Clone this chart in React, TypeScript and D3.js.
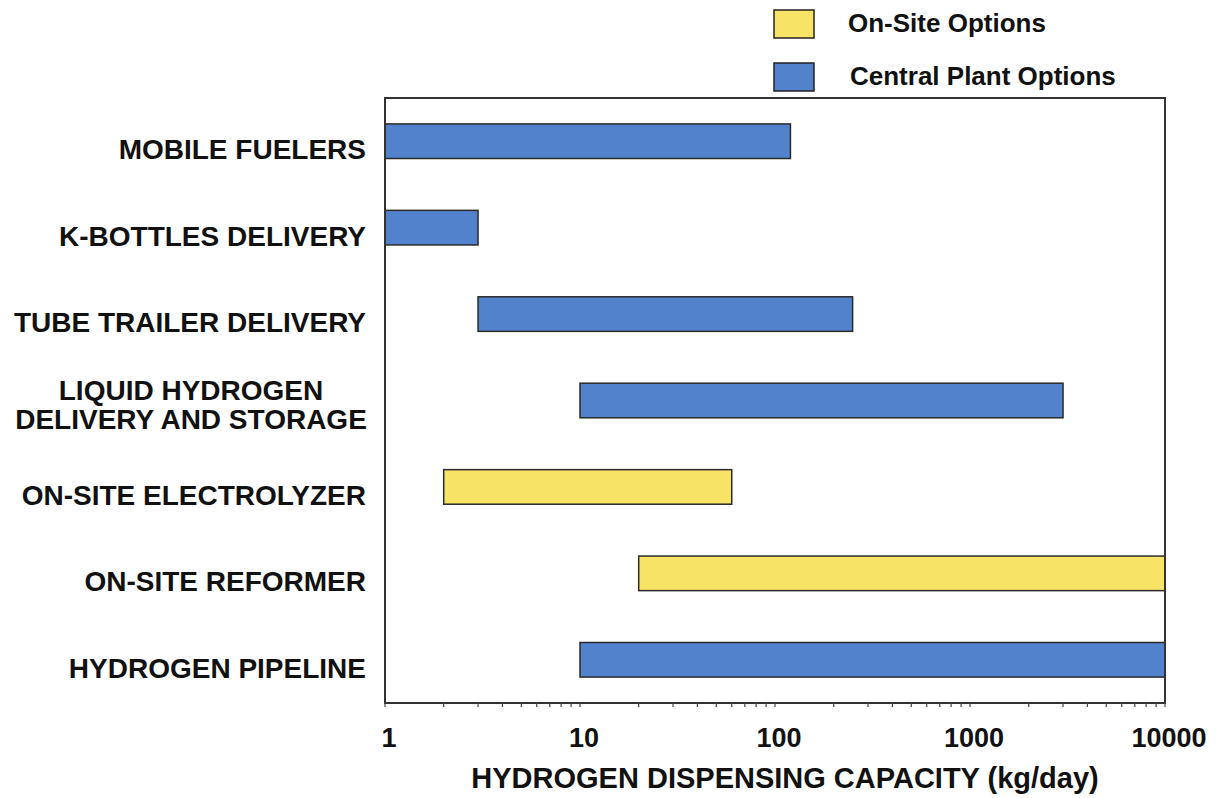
import React from "react";
import * as d3 from "d3";

const categories = [
  "MOBILE FUELERS",
  "K-BOTTLES DELIVERY",
  "TUBE TRAILER DELIVERY",
  "LIQUID HYDROGEN\nDELIVERY AND STORAGE",
  "ON-SITE ELECTROLYZER",
  "ON-SITE REFORMER",
  "HYDROGEN PIPELINE",
];
const rangeMin = [1, 1, 3, 10, 2, 20, 10];
const rangeMax = [120, 3, 250, 3000, 60, 10000, 10000];
const optionType = ["central", "central", "central", "central", "onsite", "onsite", "central"];
const legendKeys = ["onsite", "central"];
const legendLabels = ["On-Site Options", "Central Plant Options"];
const tickValues = [1, 10, 100, 1000, 10000];
const xTitle = "HYDROGEN DISPENSING CAPACITY (kg/day)";

const COLORS: Record<string, string> = { onsite: "#F7E467", central: "#5382CC" };
const FONT = "'Liberation Sans', Arial, Helvetica, sans-serif";

export default function App() {
  const W = 1219, H = 798;
  const left = 385, right = 1165, top = 98, bottom = 703;
  const x = d3.scaleLog().domain([1, 10000]).range([left, right]);
  const y = d3.scaleBand<string>().domain(categories).range([top, bottom]).paddingInner(0.6).paddingOuter(0.3);

  const minorTicks: number[] = [];
  for (let d = 1; d < 10000; d *= 10) for (let k = 1; k <= 9; k++) minorTicks.push(d * k);
  minorTicks.push(10000);

  return (
    <svg width={W} height={H} style={{ position: "absolute", left: 0, top: 0, background: "#fff" }} fontFamily={FONT}>
      {/* legend */}
      {legendKeys.map((k, i) => (
        <g key={k}>
          <rect x={774} y={10 + i * 53} width={40} height={28} fill={COLORS[k]} stroke="#222" strokeWidth={1.5} />
          <text x={848 + i * 2} y={32 + i * 53} fontSize={26} fontWeight="bold" fill="#111">{legendLabels[i]}</text>
        </g>
      ))}

      {/* bars */}
      {categories.map((c, i) => {
        const x0 = x(rangeMin[i]);
        const x1 = x(rangeMax[i]);
        return (
          <rect key={c} x={x0} y={y(c)!} width={x1 - x0} height={y.bandwidth()}
            fill={COLORS[optionType[i]]} stroke="#2a2a2a" strokeWidth={1.5} />
        );
      })}

      {/* frame */}
      <rect x={left} y={top} width={right - left} height={bottom - top} fill="none" stroke="#333" strokeWidth={2} />

      {/* minor ticks */}
      {minorTicks.map((t, i) => (
        <line key={i} x1={x(t)} x2={x(t)} y1={bottom} y2={bottom + 4} stroke="#444" strokeWidth={1.2} />
      ))}

      {/* tick labels */}
      {tickValues.map((t) => (
        <text key={t} x={x(t) + 4} y={747} textAnchor="middle" fontSize={27} fontWeight="bold" fill="#111">{t}</text>
      ))}

      {/* axis title */}
      <text x={(470 + 1100) / 2} y={788} textAnchor="middle" fontSize={29} fontWeight="bold" fill="#111">{xTitle}</text>

      {/* category labels */}
      {categories.map((c) => {
        const lines = c.split("\n");
        const cy = y(c)! + y.bandwidth() / 2;
        if (lines.length === 1) {
          return (
            <text key={c} x={366} y={cy + 18} textAnchor="end" fontSize={28} fontWeight="bold" fill="#111">{c}</text>
          );
        }
        return (
          <g key={c}>
            {lines.map((l, j) => (
              <text key={j} x={191} y={cy - 1 + j * 29.5} textAnchor="middle" fontSize={28} fontWeight="bold" fill="#111">{l}</text>
            ))}
          </g>
        );
      })}
    </svg>
  );
}
